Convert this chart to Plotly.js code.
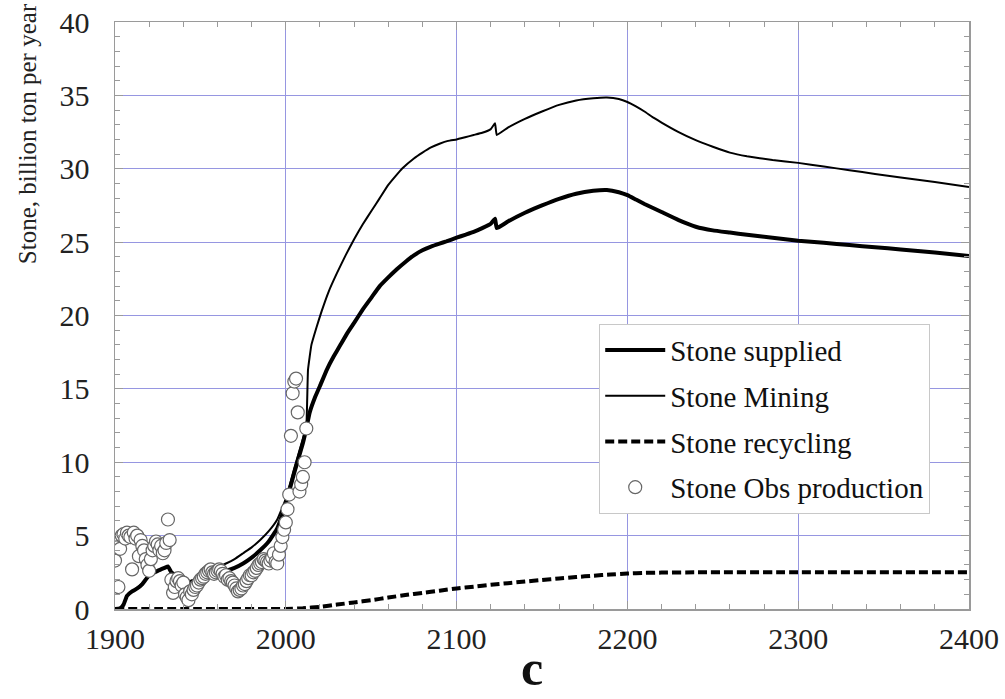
<!DOCTYPE html>
<html>
<head>
<meta charset="utf-8">
<script src="https://cdn.plot.ly/plotly-3.0.1.min.js"></script>
<style>
html,body{margin:0;padding:0;background:#fff;}
#chart{width:1005px;height:699px;}
</style>
</head>
<body>
<div id="chart"></div>
<script>
// ---- data ----
const suppliedYears = [1900,1903,1905,1907,1910,1913,1916,1920,1925,1929,1931,1933,1936,1940,1944,1948,1952,1956,1960,1965,1970,1975,1980,1985,1990,1995,2000,2005,2010,2012,2014,2017,2020,2024,2028,2032,2036,2040,2045,2050,2055,2060,2065,2070,2075,2080,2085,2090,2094,2100,2105,2110,2115,2120,2122.5,2123.5,2130,2140,2150,2160,2170,2180,2188,2195,2200,2205,2210,2220,2230,2240,2250,2260,2270,2285,2300,2315,2330,2345,2360,2380,2400];
const suppliedValues = [0,0.05,0.3,0.9,1.2,1.4,1.7,2.3,2.6,2.8,2.9,2.5,2.3,2.0,1.85,2.0,2.2,2.35,2.45,2.6,2.8,3.1,3.5,4.0,4.6,5.5,7.2,9.3,11.3,12.3,13.4,14.4,15.2,16.3,17.2,18.0,18.8,19.5,20.4,21.2,22.0,22.6,23.15,23.65,24.1,24.45,24.7,24.9,25.05,25.3,25.5,25.7,25.95,26.25,26.6,25.95,26.4,27.0,27.5,27.95,28.3,28.5,28.55,28.4,28.2,27.9,27.6,27.05,26.5,26.05,25.8,25.65,25.5,25.3,25.1,24.95,24.8,24.65,24.5,24.3,24.05];

const miningYears = [1900,1903,1905,1907,1910,1913,1916,1920,1925,1929,1931,1933,1936,1940,1944,1948,1952,1956,1960,1965,1970,1975,1980,1985,1990,1995,2000,2005,2010,2012,2013,2015,2018,2021,2025,2030,2035,2040,2045,2050,2055,2060,2065,2068,2075,2080,2085,2090,2095,2100,2105,2110,2115,2120,2122.5,2123.5,2130,2140,2150,2160,2170,2180,2188,2195,2200,2205,2210,2215,2220,2230,2240,2250,2260,2270,2285,2300,2315,2330,2345,2360,2380,2400];
const miningValues = [0,0.05,0.3,0.9,1.2,1.45,1.75,2.3,2.6,2.8,2.9,2.55,2.3,2.05,1.9,2.1,2.4,2.65,2.85,3.1,3.4,3.8,4.2,4.7,5.3,6.1,7.5,9.6,11.6,12.4,16.3,18.0,19.2,20.3,21.6,22.9,24.1,25.2,26.2,27.1,28.0,28.9,29.6,30.0,30.7,31.1,31.45,31.7,31.9,32.0,32.15,32.3,32.45,32.7,33.1,32.3,32.8,33.4,33.9,34.35,34.65,34.8,34.85,34.75,34.55,34.25,33.9,33.5,33.15,32.5,31.95,31.5,31.1,30.85,30.6,30.4,30.15,29.9,29.65,29.4,29.1,28.75];

const recyclingYears = [1900,1950,2000,2010,2020,2030,2040,2050,2060,2070,2080,2090,2100,2110,2120,2130,2140,2150,2160,2170,2180,2190,2200,2210,2220,2240,2300,2400];
const recyclingValues = [0,0,0,0.05,0.15,0.3,0.45,0.6,0.78,0.95,1.1,1.25,1.4,1.52,1.65,1.76,1.87,1.98,2.08,2.18,2.27,2.35,2.42,2.46,2.48,2.5,2.5,2.5];

const obsYears = [1900,1901,1902,1903,1904,1905,1906,1907,1908,1909,1910,1911,1912,1913,1914,1915,1916,1917,1918,1919,1920,1921,1922,1923,1924,1925,1926,1927,1928,1929,1930,1931,1932,1933,1934,1935,1936,1937,1938,1939,1940,1941,1942,1943,1944,1945,1946,1947,1948,1949,1950,1951,1952,1953,1954,1955,1956,1957,1958,1959,1960,1961,1962,1963,1964,1965,1966,1967,1968,1969,1970,1971,1972,1973,1974,1975,1976,1977,1978,1979,1980,1981,1982,1983,1984,1985,1986,1987,1988,1989,1990,1991,1992,1993,1994,1995,1996,1997,1998,1999,2000,2001,2002,2003,2004,2005,2006,2007,2008,2009,2010,2011,2012];
const obsValues = [3.3,4.2,1.5,4.1,5.0,5.1,4.8,5.2,5.0,4.9,2.7,5.2,4.8,5.0,3.6,4.7,4.3,4.0,3.4,3.0,2.6,3.4,4.0,4.3,4.6,4.4,4.0,4.3,3.8,4.0,4.5,6.1,4.7,2.0,1.1,1.5,1.9,2.1,1.9,1.6,1.8,1.0,0.8,0.6,1.2,1.0,1.3,1.5,1.6,1.8,2.0,2.1,2.2,2.4,2.5,2.6,2.7,2.5,2.4,2.5,2.6,2.7,2.6,2.4,2.2,2.3,2.0,2.1,1.9,1.8,1.6,1.4,1.2,1.3,1.4,1.6,1.7,1.9,2.1,2.3,2.3,2.5,2.6,2.8,3.0,3.1,3.2,3.4,3.3,3.2,3.1,3.3,3.5,3.8,3.2,3.1,3.7,4.3,4.9,5.4,5.9,6.8,7.8,11.8,14.7,15.5,15.7,13.4,8.0,8.5,9.0,10.0,12.3];

const xTicks = [1900,2000,2100,2200,2300,2400];
const yTicks = [0,5,10,15,20,25,30,35,40];

const serif = '"Liberation Serif", "Times New Roman", serif';
const gridColor = 'rgb(150,150,225)';
const frameColor = '#9a9a9a';

const traces = [
  {x: suppliedYears, y: suppliedValues, name: 'Stone supplied', mode: 'lines',
   line: {color: '#000', width: 4, shape: 'spline', smoothing: 0.3}, legendgroup: 'a'},
  {x: miningYears, y: miningValues, name: 'Stone Mining', mode: 'lines',
   line: {color: '#000', width: 2, shape: 'spline', smoothing: 0.3}, legendgroup: 'b'},
  {x: recyclingYears, y: recyclingValues, name: 'Stone recycling', mode: 'lines',
   line: {color: '#000', width: 4, dash: '9px,4px', shape: 'spline', smoothing: 0.3}, legendgroup: 'c'},
  {x: obsYears, y: obsValues, name: 'Stone Obs production', mode: 'markers',
   marker: {symbol: 'circle', size: 13, color: '#fff', line: {color: '#666', width: 1.2}}, legendgroup: 'd'}
];

const layout = {
  width: 1005, height: 699,
  margin: {l: 115, r: 36, t: 22, b: 90},
  paper_bgcolor: '#fff', plot_bgcolor: '#fff',
  showlegend: true,
  font: {family: serif, color: '#222'},
  xaxis: {
    range: [1900, 2400], tickvals: xTicks, ticktext: xTicks.map(String),
    ticks: 'inside', ticklen: 8, tickcolor: frameColor, tickwidth: 1,
    showline: true, linecolor: frameColor, linewidth: 1.5, mirror: 'ticks',
    showgrid: true, gridcolor: gridColor, gridwidth: 1, zeroline: false,
    tickfont: {family: serif, size: 30, color: '#222'},
    ticklabelstandoff: 2,
    minor: {dtick: 20, ticks: 'inside', ticklen: 5, tickcolor: frameColor, showgrid: false},
    fixedrange: true
  },
  yaxis: {
    range: [0, 40], tickvals: yTicks, ticktext: yTicks.map(String),
    ticks: 'inside', ticklen: 8, tickcolor: frameColor, tickwidth: 1,
    showline: true, linecolor: frameColor, linewidth: 1.5, mirror: 'ticks',
    showgrid: true, gridcolor: gridColor, gridwidth: 1, zeroline: false,
    tickfont: {family: serif, size: 30, color: '#222'},
    ticklabelstandoff: 18,
    minor: {dtick: 1, ticks: 'inside', ticklen: 5, tickcolor: frameColor, showgrid: false},
    fixedrange: true
  },
  legend: {
    x: 0.567, y: 0.486, xanchor: 'left', yanchor: 'top',
    bgcolor: '#fff', bordercolor: '#c8c8c8', borderwidth: 1,
    font: {family: serif, size: 29, color: '#111'},
    traceorder: 'grouped', tracegroupgap: 5, itemwidth: 60
  },
  annotations: [
    {text: 'Stone, billion ton per year', xref: 'paper', yref: 'paper',
     x: -0.103, y: 0.809, xanchor: 'center', yanchor: 'middle', textangle: -90,
     showarrow: false, font: {family: serif, size: 25, color: '#222'}},
    {text: '<b>c</b>', xref: 'paper', yref: 'paper',
     x: 0.488, y: -0.152, xanchor: 'center', yanchor: 'bottom',
     showarrow: false, font: {family: serif, size: 50, color: '#111'}}
  ]
};

Plotly.newPlot('chart', traces, layout, {displayModeBar: false, staticPlot: true});
</script>
</body>
</html>
